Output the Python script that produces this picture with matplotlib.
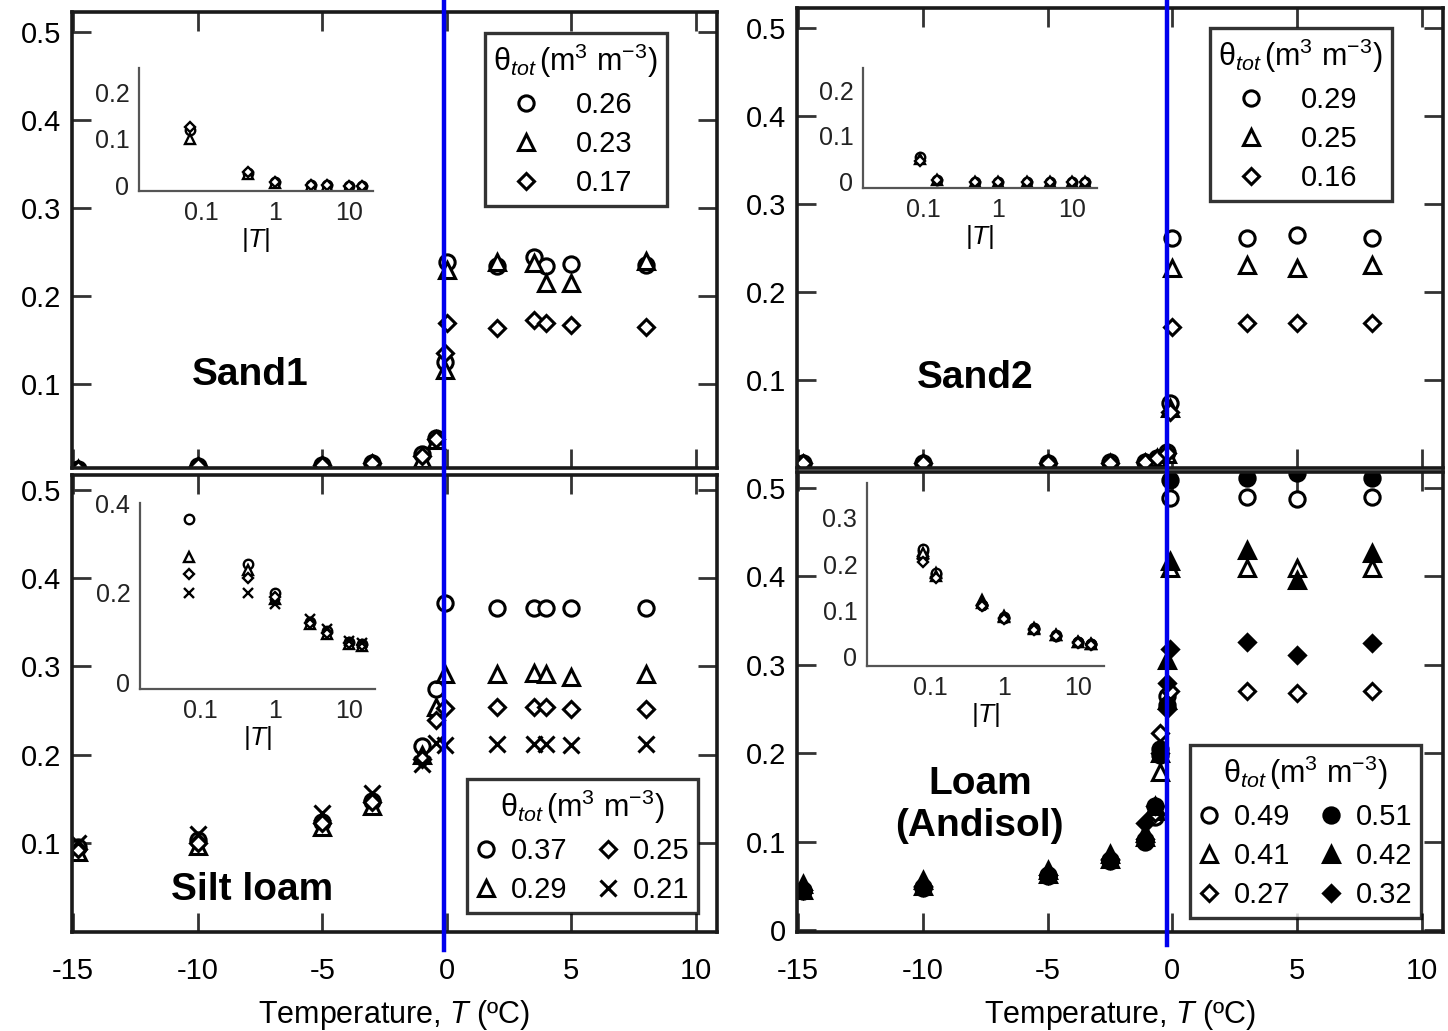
import numpy as np
import matplotlib
matplotlib.use("Agg")
import matplotlib.pyplot as plt
from matplotlib.lines import Line2D
from matplotlib.transforms import blended_transform_factory

plt.rcParams['font.family'] = ['Liberation Sans', 'DejaVu Sans']
plt.rcParams['mathtext.fontset'] = 'custom'
plt.rcParams['mathtext.rm'] = 'Liberation Sans'
plt.rcParams['mathtext.it'] = 'Liberation Sans:italic'

# ---- Sand1 (main panel) ----
t_sand1 = [-14.8, -10, -5, -3, -1, -0.43, -0.07, 0.0, 2, 3.5, 4, 5, 8]
sand1_026 = [0.004, 0.007, 0.008, 0.010, 0.020, 0.039, 0.125, 0.239, 0.234, 0.244, 0.234, 0.236, 0.235]
sand1_023 = [0.003, 0.006, 0.007, 0.009, 0.015, 0.036, 0.116, 0.230, 0.239, 0.238, 0.215, 0.215, 0.240]
sand1_017 = [0.004, 0.007, 0.008, 0.010, 0.018, 0.037, 0.135, 0.169, 0.164, 0.173, 0.169, 0.167, 0.165]
# Sand1 inset
abs_t_sand1 = [0.07, 0.43, 1, 3, 5, 10, 15]
ins_sand1_026 = [0.120, 0.026, 0.006, 0.0, 0.0, -0.003, -0.003]
ins_sand1_023 = [0.100, 0.024, 0.004, -0.002, -0.002, -0.004, -0.004]
ins_sand1_017 = [0.126, 0.028, 0.007, 0.001, 0.001, -0.002, -0.002]

# ---- Sand2 ----
t_sand2 = [-14.8, -10, -5, -2.5, -1.1, -0.6, -0.2, -0.1, 0.0, 3, 5, 8]
sand2_029 = [0.006, 0.006, 0.006, 0.007, 0.007, 0.012, 0.018, 0.074, 0.261, 0.261, 0.265, 0.261]
sand2_025 = [0.005, 0.005, 0.005, 0.006, 0.006, 0.011, 0.016, 0.068, 0.228, 0.231, 0.228, 0.231]
sand2_016 = [0.006, 0.006, 0.006, 0.006, 0.007, 0.012, 0.017, 0.064, 0.160, 0.165, 0.165, 0.165]
abs_t_sand2 = [0.09, 0.15, 0.5, 1, 2.5, 5, 10, 15]
ins_sand2_029 = [0.055, 0.005, 0.0, 0.0, 0.0, 0.0, 0.0, 0.0]
ins_sand2_025 = [0.050, 0.004, 0.0, 0.0, 0.0, 0.0, 0.0, 0.0]
ins_sand2_016 = [0.045, 0.004, 0.0, 0.0, 0.0, 0.0, 0.0, 0.0]

# ---- Silt loam ----
t_silt = [-14.8, -10, -5, -3, -1, -0.43, -0.07, 2, 3.5, 4, 5, 8]
silt_037 = [0.095, 0.103, 0.124, 0.148, 0.210, 0.275, 0.372, 0.366, 0.366, 0.366, 0.366, 0.366]
silt_029 = [0.090, 0.097, 0.118, 0.142, 0.200, 0.254, 0.292, 0.291, 0.293, 0.291, 0.288, 0.292]
silt_025 = [0.093, 0.100, 0.122, 0.146, 0.195, 0.239, 0.253, 0.254, 0.254, 0.254, 0.252, 0.252]
silt_021 = [0.100, 0.110, 0.134, 0.157, 0.190, 0.213, 0.211, 0.212, 0.212, 0.212, 0.211, 0.212]
abs_t_silt = [0.07, 0.43, 1, 3, 5, 10, 15]
ins_silt_037 = [0.364, 0.264, 0.200, 0.135, 0.113, 0.089, 0.084]
ins_silt_029 = [0.280, 0.250, 0.185, 0.130, 0.108, 0.085, 0.080]
ins_silt_025 = [0.242, 0.233, 0.190, 0.133, 0.110, 0.087, 0.082]
ins_silt_021 = [0.198, 0.200, 0.175, 0.140, 0.118, 0.092, 0.088]

# ---- Loam (Andisol) ----
t_loam = [-14.8, -10, -5, -2.5, -1.1, -0.7, -0.5, -0.2, -0.1, 3, 5, 8]
loam_049 = [0.044, 0.048, 0.061, 0.078, 0.100, 0.128, 0.198, 0.265, 0.489, 0.490, 0.488, 0.490]
loam_051 = [0.045, 0.049, 0.062, 0.079, 0.102, 0.141, 0.205, 0.255, 0.509, 0.511, 0.517, 0.511]
loam_041 = [0.046, 0.050, 0.064, 0.081, 0.105, 0.135, 0.179, 0.260, 0.410, 0.410, 0.410, 0.410]
loam_042 = [0.052, 0.057, 0.068, 0.086, 0.110, 0.140, 0.200, 0.305, 0.417, 0.430, 0.396, 0.426]
loam_027 = [0.045, 0.049, 0.062, 0.079, 0.103, 0.133, 0.223, 0.250, 0.270, 0.271, 0.268, 0.270]
loam_032 = [0.046, 0.050, 0.063, 0.080, 0.121, 0.140, 0.200, 0.280, 0.318, 0.326, 0.311, 0.325]
abs_t_loam = [0.08, 0.12, 0.5, 1, 2.5, 5, 10, 15]
ins_loam_049 = [0.232, 0.180, 0.110, 0.083, 0.058, 0.044, 0.030, 0.026]
ins_loam_051 = [0.228, 0.178, 0.112, 0.084, 0.060, 0.045, 0.031, 0.027]
ins_loam_041 = [0.225, 0.175, 0.115, 0.085, 0.059, 0.045, 0.030, 0.026]
ins_loam_042 = [0.228, 0.180, 0.122, 0.086, 0.060, 0.046, 0.031, 0.027]
ins_loam_027 = [0.205, 0.170, 0.108, 0.080, 0.057, 0.043, 0.029, 0.025]
ins_loam_032 = [0.210, 0.172, 0.110, 0.082, 0.058, 0.044, 0.030, 0.026]

x_ticks = [-15, -10, -5, 0, 5, 10]
legend_title = r'$\mathrm{θ}_{tot}\,\mathrm{(m^{3}\ m^{-3})}$'

# marker styles: (marker, filled, size)
sty = {
    'o': ('o', False, 11), 'fo': ('o', True, 11),
    '^': ('^', False, 11), 'f^': ('^', True, 11),
    'D': ('D', False, 8.5), 'fD': ('D', True, 8.5),
    'x': ('x', False, 11),
}


def pts(ax, x, y, key, label=None, small=False):
    m, filled, ms = sty[key]
    if small:
        ms = ms * 0.62
    return ax.plot(x, y, ls='none', marker=m, ms=ms,
                   mfc='black' if filled else 'white', mec='black',
                   mew=1.7 if small else 2.2, label=label)[0]


fig = plt.figure(figsize=(14.48, 10.31), dpi=100)

ax_tl = fig.add_axes([0.0497, 0.546, 0.4454, 0.4423])
ax_tr = fig.add_axes([0.5504, 0.546, 0.4461, 0.4462])
ax_bl = fig.add_axes([0.0497, 0.096, 0.4454, 0.4433])
ax_br = fig.add_axes([0.5504, 0.096, 0.4461, 0.4462])

ylims = {ax_tl: (0.0045, 0.523), ax_tr: (0.0, 0.523),
         ax_bl: (-0.001, 0.517), ax_br: (-0.002, 0.518)}

for ax in [ax_tl, ax_tr, ax_bl, ax_br]:
    ax.set_xlim(-15.05, 10.85)
    ax.set_ylim(*ylims[ax])
    ax.set_xticks(x_ticks)
    for s in ax.spines.values():
        s.set_linewidth(2.6)
        s.set_color('#1a1a1a')
    ax.tick_params(direction='in', length=14, width=2, color='#333333',
                   top=True, right=True, labelsize=21)
    ax.tick_params(axis='y', pad=8)
    ax.tick_params(axis='x', pad=18)

for ax in [ax_tl, ax_tr]:
    ax.set_yticks([0.1, 0.2, 0.3, 0.4, 0.5])
    ax.tick_params(labelbottom=False)
ax_bl.set_yticks([0.1, 0.2, 0.3, 0.4, 0.5])
ax_br.set_yticks([0, 0.1, 0.2, 0.3, 0.4, 0.5])
for ax in [ax_tl, ax_tr, ax_bl, ax_br]:
    ax.set_yticklabels(['0' if v == 0 else f'{v:.1f}' for v in ax.get_yticks()])
for ax in [ax_bl, ax_br]:
    ax.set_xticklabels([str(v) for v in x_ticks])
    ax.set_xlabel(r'Temperature, $\mathit{T}$ (ºC)', fontsize=22, labelpad=9)

leg_kw = dict(fontsize=21, title_fontsize=22, frameon=True, fancybox=False,
              edgecolor='black', borderaxespad=0, borderpad=0.3,
              labelspacing=0.38)
leg1 = dict(handlelength=0.5, handletextpad=1.45)
leg2 = dict(ncol=2, handlelength=0.7, handletextpad=0.5, columnspacing=1.05)
lab_kw = dict(fontsize=28, fontweight='bold', ha='center', va='center')

# Sand1
h = [pts(ax_tl, t_sand1, sand1_026, 'o', '0.26'),
     pts(ax_tl, t_sand1, sand1_023, '^', '0.23'),
     pts(ax_tl, t_sand1, sand1_017, 'D', '0.17')]
ax_tl.text(0.276, 0.204, 'Sand1', transform=ax_tl.transAxes, **lab_kw)
lg = ax_tl.legend(handles=h, title=legend_title, loc='upper left',
                  bbox_to_anchor=(0.64, 0.954), **leg_kw, **leg1)
lg.get_frame().set_linewidth(2.4)

# Sand2
h = [pts(ax_tr, t_sand2, sand2_029, 'o', '0.29'),
     pts(ax_tr, t_sand2, sand2_025, '^', '0.25'),
     pts(ax_tr, t_sand2, sand2_016, 'D', '0.16')]
ax_tr.text(0.276, 0.196, 'Sand2', transform=ax_tr.transAxes, **lab_kw)
lg = ax_tr.legend(handles=h, title=legend_title, loc='upper left',
                  bbox_to_anchor=(0.639, 0.957), **leg_kw, **leg1)
lg.get_frame().set_linewidth(2.4)

# Silt loam
h = [pts(ax_bl, t_silt, silt_037, 'o', '0.37'),
     pts(ax_bl, t_silt, silt_029, '^', '0.29'),
     pts(ax_bl, t_silt, silt_025, 'D', '0.25'),
     pts(ax_bl, t_silt, silt_021, 'x', '0.21')]
ax_bl.text(0.28, 0.092, 'Silt loam', transform=ax_bl.transAxes, **lab_kw)
lg = ax_bl.legend(handles=h, title=legend_title, loc='upper left',
                  bbox_to_anchor=(0.612, 0.335), **leg_kw, **leg2)
lg.get_frame().set_linewidth(2.4)

# Loam (Andisol)
h = [pts(ax_br, t_loam, loam_049, 'o', '0.49'),
     pts(ax_br, t_loam, loam_041, '^', '0.41'),
     pts(ax_br, t_loam, loam_027, 'D', '0.27'),
     pts(ax_br, t_loam, loam_051, 'fo', '0.51'),
     pts(ax_br, t_loam, loam_042, 'f^', '0.42'),
     pts(ax_br, t_loam, loam_032, 'fD', '0.32')]
ax_br.text(0.283, 0.276, 'Loam\n(Andisol)', transform=ax_br.transAxes,
           linespacing=1.2, **lab_kw)
lg = ax_br.legend(handles=h, title=legend_title, loc='upper left',
                  bbox_to_anchor=(0.608, 0.407), **leg_kw, **leg2)
lg.get_frame().set_linewidth(2.4)


# insets
def inset(rect, ylim, yticks, xlim_exp):
    a = fig.add_axes(rect)
    a.set_xscale('log')
    a.set_xlim(10 ** xlim_exp[0], 10 ** xlim_exp[1])
    a.set_ylim(*ylim)
    a.set_facecolor('none')
    for s in ['top', 'right']:
        a.spines[s].set_visible(False)
    for s in ['left', 'bottom']:
        a.spines[s].set_color('#555555')
        a.spines[s].set_linewidth(1.6)
    a.set_xticks([0.1, 1, 10])
    a.set_xticklabels(['0.1', '1', '10'])
    a.minorticks_off()
    a.set_yticks(yticks)
    a.set_yticklabels(['0' if v == 0 else f'{v:.1f}' for v in yticks])
    a.tick_params(length=0, labelsize=18, pad=7, colors='#222222')
    a.set_xlabel(r'|$\mathit{T}$|', fontsize=19, labelpad=1)
    return a


in_tl = inset([0.096, 0.8147, 0.1616, 0.1193], (-0.013, 0.254), [0, 0.1, 0.2], (-1.84, 1.32))
pts(in_tl, abs_t_sand1, ins_sand1_026, 'o', small=True)
pts(in_tl, abs_t_sand1, ins_sand1_023, '^', small=True)
pts(in_tl, abs_t_sand1, ins_sand1_017, 'D', small=True)

in_tr = inset([0.596, 0.8177, 0.1616, 0.1164], (-0.013, 0.248), [0, 0.1, 0.2], (-1.82, 1.34))
pts(in_tr, abs_t_sand2, ins_sand2_029, 'o', small=True)
pts(in_tr, abs_t_sand2, ins_sand2_025, '^', small=True)
pts(in_tr, abs_t_sand2, ins_sand2_016, 'D', small=True)

in_bl = inset([0.0967, 0.3317, 0.1623, 0.1804], (-0.0155, 0.40), [0, 0.2, 0.4], (-1.82, 1.35))
pts(in_bl, abs_t_silt, ins_silt_037, 'o', small=True)
pts(in_bl, abs_t_silt, ins_silt_029, '^', small=True)
pts(in_bl, abs_t_silt, ins_silt_025, 'D', small=True)
pts(in_bl, abs_t_silt, ins_silt_021, 'x', small=True)

in_br = inset([0.5988, 0.354, 0.1637, 0.1775], (-0.0217, 0.376), [0, 0.1, 0.2, 0.3], (-1.85, 1.35))
pts(in_br, abs_t_loam, ins_loam_051, 'fo', small=True)
pts(in_br, abs_t_loam, ins_loam_042, 'f^', small=True)
pts(in_br, abs_t_loam, ins_loam_032, 'fD', small=True)
pts(in_br, abs_t_loam, ins_loam_049, 'o', small=True)
pts(in_br, abs_t_loam, ins_loam_041, '^', small=True)
pts(in_br, abs_t_loam, ins_loam_027, 'D', small=True)

# blue marker lines near 0 degC
for ax, x0, ybot in [(ax_bl, -0.1, 0.079), (ax_br, -0.2, 0.083)]:
    tr = blended_transform_factory(ax.transData, fig.transFigure)
    fig.add_artist(Line2D([x0, x0], [ybot, 1.0], transform=tr,
                          color='#0000ee', lw=3.2, zorder=10))

fig.savefig('out.png', dpi=100)
